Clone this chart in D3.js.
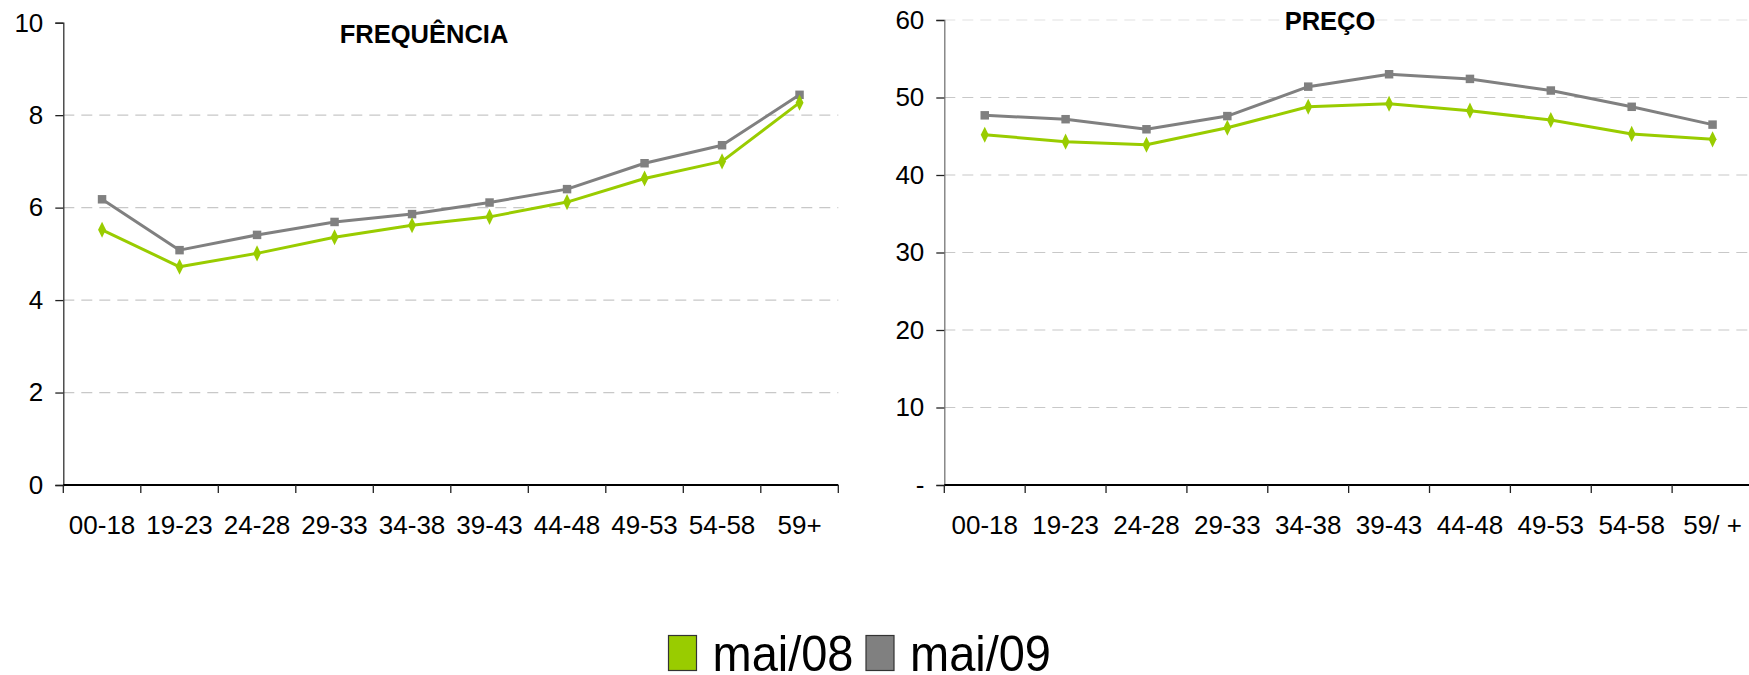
<!DOCTYPE html>
<html><head><meta charset="utf-8">
<script src="https://cdn.jsdelivr.net/npm/d3@7"></script>
<style>
html,body{margin:0;padding:0;background:#fff;}
svg{display:block;font-family:"Liberation Sans",Arial,sans-serif;}
</style></head>
<body>
<svg id="chart" width="1749" height="675"></svg>
<script>
const categoriesFreq = ["00-18","19-23","24-28","29-33","34-38","39-43","44-48","49-53","54-58","59+"];
const categoriesPreco = ["00-18","19-23","24-28","29-33","34-38","39-43","44-48","49-53","54-58","59/ +"];
const freqMai08 = [5.52, 4.72, 5.01, 5.36, 5.62, 5.80, 6.12, 6.63, 7.00, 8.27];
const freqMai09 = [6.18, 5.08, 5.41, 5.69, 5.86, 6.11, 6.40, 6.96, 7.35, 8.44];
const precoMai08 = [45.2, 44.3, 43.9, 46.1, 48.8, 49.2, 48.3, 47.1, 45.3, 44.6];
const precoMai09 = [47.7, 47.2, 45.9, 47.6, 51.4, 53.0, 52.4, 50.9, 48.8, 46.5];
const freqTicks = [0, 2, 4, 6, 8, 10];
const precoTicks = [0, 10, 20, 30, 40, 50, 60];
const precoTickLabels = ["-", "10", "20", "30", "40", "50", "60"];
const seriesNames = ["mai/08", "mai/09"];
const seriesColors = ["#99cc00", "#808080"];

const svg = d3.select("#chart");

function panel(opts) {
  const g = svg.append("g");
  const x = d3.scaleBand().domain(opts.cats).range([opts.x0, opts.x1]).padding(0);
  const y = d3.scaleLinear().domain([0, opts.max]).range([485, opts.yTop]);

  // grid
  g.selectAll("line.grid").data(opts.gridVals).enter().append("line")
    .attr("x1", opts.x0).attr("x2", opts.gridEnd)
    .attr("y1", d => y(d)).attr("y2", d => y(d))
    .attr("stroke", d => d === opts.max ? "#e2e2e2" : "#c8c8c8")
    .attr("stroke-width", 1.2).attr("stroke-dasharray", "11,7");

  // y axis
  const ya = d3.axisLeft(y).tickValues(opts.ticks).tickSize(8).tickPadding(12)
    .tickFormat((d, i) => opts.tickLabels ? opts.tickLabels[i] : d);
  const yg = g.append("g").attr("transform", `translate(${opts.x0},0)`).call(ya);
  yg.select(".domain").attr("stroke", opts.yAxisColor).attr("stroke-width", 1.3);
  yg.selectAll(".tick line").attr("stroke", "#222").attr("stroke-width", 1.3);
  yg.selectAll(".tick text").attr("font-size", 26).attr("fill", "#000")
    .attr("font-family", "Liberation Sans, Arial, sans-serif");

  // x axis: labels at center, ticks at boundaries
  const xa = d3.axisBottom(x).tickSize(0).tickPadding(0);
  const xg = g.append("g").attr("transform", `translate(0,485)`).call(xa);
  xg.select(".domain").remove();
  xg.selectAll(".tick text").attr("font-size", 26).attr("fill", "#000")
    .attr("dy", null).attr("y", 49)
    .attr("font-family", "Liberation Sans, Arial, sans-serif");
  g.append("line").attr("x1", opts.x0).attr("x2", opts.x1).attr("y1", 485).attr("y2", 485)
    .attr("stroke", "#000").attr("stroke-width", 1.8);
  const bounds = opts.cats.map(c => x(c)).concat([opts.x1]);
  g.selectAll("line.xt").data(bounds).enter().append("line")
    .attr("x1", d => d).attr("x2", d => d).attr("y1", 485).attr("y2", 493)
    .attr("stroke", "#222").attr("stroke-width", 1.3);

  // series
  const line = d3.line().x((d, i) => x(opts.cats[i]) + x.bandwidth() / 2).y(d => y(d));
  opts.series.forEach((vals, si) => {
    g.append("path").datum(vals).attr("d", line).attr("fill", "none")
      .attr("stroke", seriesColors[si]).attr("stroke-width", 3).attr("stroke-linejoin", "round");
  });
  // markers: gray squares, green diamonds
  [1, 0].forEach(si => {
    const vals = opts.series[si];
    const sym = si === 0 ? d3.symbol().type(d3.symbolDiamond).size(75) : d3.symbol().type(d3.symbolSquare).size(72);
    g.selectAll(null).data(vals).enter().append("path")
      .attr("d", sym)
      .attr("transform", (d, i) => `translate(${x(opts.cats[i]) + x.bandwidth() / 2},${y(d)})` + (si === 0 ? " scale(0.85,1)" : ""))
      .attr("fill", seriesColors[si]);
  });

  g.append("text").attr("x", opts.titleX).attr("y", opts.titleY).attr("text-anchor", "middle")
    .attr("font-size", 25.5).attr("font-weight", "bold").attr("fill", "#000").text(opts.title);
}

panel({
  cats: categoriesFreq, x0: 63.3, x1: 838.3, yTop: 22.7, max: 10,
  gridVals: [2, 4, 6, 8], gridEnd: 838.3, ticks: freqTicks, tickLabels: null,
  yAxisColor: "#333", series: [freqMai08, freqMai09],
  title: "FREQUÊNCIA", titleX: 424, titleY: 43
});
panel({
  cats: categoriesPreco, x0: 944.3, x1: 1753, yTop: 20, max: 60,
  gridVals: [10, 20, 30, 40, 50, 60], gridEnd: 1749, ticks: precoTicks, tickLabels: precoTickLabels,
  yAxisColor: "#777", series: [precoMai08, precoMai09],
  title: "PREÇO", titleX: 1330, titleY: 30
});

// legend
const leg = svg.append("g");
const legX = [668.5, 866];
seriesNames.forEach((n, i) => {
  leg.append("rect").attr("x", legX[i]).attr("y", 635.5).attr("width", 28).attr("height", 35)
    .attr("fill", seriesColors[i]).attr("stroke", "#333").attr("stroke-width", 1.2);
  leg.append("text").attr("x", legX[i] + 44).attr("y", 671).attr("font-size", 50)
    .attr("textLength", 141).attr("lengthAdjust", "spacingAndGlyphs")
    .attr("fill", "#000").text(n);
});
</script>
</body></html>
